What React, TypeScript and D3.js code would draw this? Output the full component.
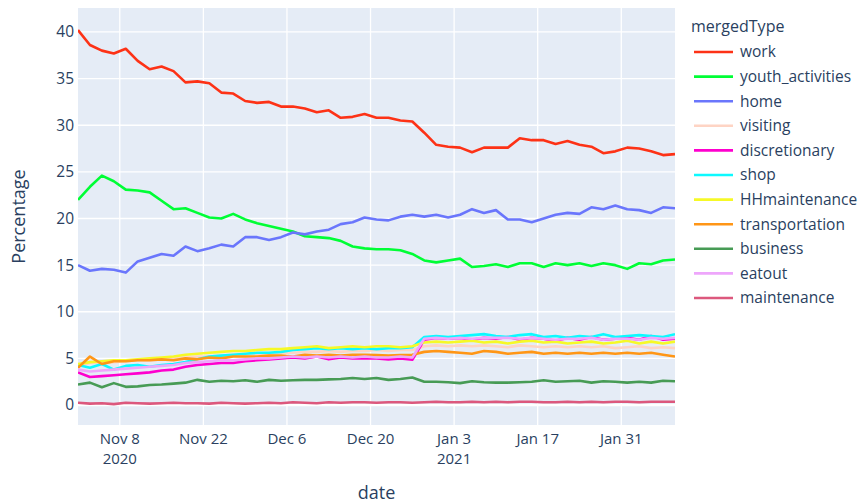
import React from 'react';
import * as d3 from 'd3';

// daily-share series, sampled every 2 days from Nov 1 2020 to Feb 9 2021
const START = new Date(2020, 10, 1);
const END = new Date(2021, 1, 9);
const STEP_DAYS = 2;

const seriesNames = [
  'work', 'youth_activities', 'home', 'visiting', 'discretionary', 'shop',
  'HHmaintenance', 'transportation', 'business', 'eatout', 'maintenance',
];
const seriesColors = [
  '#FD3216', '#00FE35', '#6A76FC', '#FED4C4', '#FE00CE', '#0DF9FF',
  '#F6F926', '#FF9616', '#479B55', '#EEA6FB', '#DC587D',
];

const work = [
  40.2, 38.6, 38.0, 37.7, 38.2, 36.9, 36.0, 36.3, 35.8, 34.6,
  34.7, 34.5, 33.5, 33.4, 32.6, 32.4, 32.5, 32.0, 32.0, 31.8,
  31.4, 31.6, 30.8, 30.9, 31.2, 30.8, 30.8, 30.5, 30.4, 29.2,
  27.9, 27.7, 27.6, 27.1, 27.6, 27.6, 27.6, 28.6, 28.4, 28.4,
  28.0, 28.3, 27.9, 27.7, 27.0, 27.2, 27.6, 27.5, 27.2, 26.8,
  26.9,
];
const youthActivities = [
  22.0, 23.4, 24.6, 24.0, 23.1, 23.0, 22.8, 21.9, 21.0, 21.1,
  20.6, 20.1, 20.0, 20.5, 19.9, 19.5, 19.2, 18.9, 18.6, 18.1,
  18.0, 17.9, 17.6, 17.0, 16.8, 16.7, 16.7, 16.6, 16.2, 15.5,
  15.3, 15.5, 15.7, 14.8, 14.9, 15.1, 14.8, 15.2, 15.2, 14.8,
  15.2, 15.0, 15.2, 14.9, 15.2, 15.0, 14.6, 15.2, 15.1, 15.5,
  15.6,
];
const home = [
  15.0, 14.4, 14.6, 14.5, 14.2, 15.4, 15.8, 16.2, 16.0, 17.0,
  16.5, 16.8, 17.2, 17.0, 18.0, 18.0, 17.7, 18.0, 18.5, 18.3,
  18.6, 18.8, 19.4, 19.6, 20.1, 19.9, 19.8, 20.2, 20.4, 20.2,
  20.4, 20.1, 20.4, 21.0, 20.6, 20.9, 19.9, 19.9, 19.6, 20.0,
  20.4, 20.6, 20.5, 21.2, 21.0, 21.4, 21.0, 20.9, 20.6, 21.2,
  21.1,
];
const visiting = [
  4.2, 4.5, 4.5, 4.6, 4.7, 4.8, 4.8, 4.9, 5.0, 5.1,
  5.2, 5.2, 5.3, 5.4, 5.4, 5.5, 5.5, 5.6, 5.6, 5.7,
  5.7, 5.8, 5.7, 5.8, 5.8, 5.9, 5.8, 5.9, 5.9, 6.3,
  6.4, 6.3, 6.4, 6.3, 6.4, 6.3, 6.2, 6.4, 6.3, 6.2,
  6.3, 6.2, 6.3, 6.2, 6.3, 6.1, 6.2, 6.3, 6.1, 6.2,
  6.1,
];
const discretionary = [
  3.5, 3.0, 3.1, 3.2, 3.3, 3.4, 3.5, 3.7, 3.8, 4.1,
  4.3, 4.4, 4.5, 4.5, 4.7, 4.8, 4.9, 5.0, 5.1, 5.0,
  5.2, 4.9, 5.1, 5.0, 5.0, 5.0, 4.9, 5.0, 4.85, 7.0,
  7.2, 7.1, 7.2, 7.0, 7.2, 7.1, 7.3, 7.0, 7.2, 7.1,
  6.9, 7.2, 7.0, 7.3, 7.0, 7.1, 7.2, 7.0, 7.4, 7.0,
  7.1,
];
const shop = [
  4.3, 4.0, 4.4, 3.8, 4.2, 4.3, 4.1, 4.3, 4.4, 4.6,
  4.9, 5.2, 5.3, 5.4, 5.5, 5.6, 5.6, 5.7, 5.9, 6.0,
  6.1, 6.0, 6.1, 6.0, 6.1, 6.0, 6.1, 6.1, 6.2, 7.3,
  7.4, 7.3, 7.4, 7.5, 7.6, 7.4, 7.3, 7.5, 7.6, 7.3,
  7.4, 7.2, 7.4, 7.3, 7.6, 7.3, 7.4, 7.5, 7.4, 7.3,
  7.6,
];
const hhMaintenance = [
  4.4, 4.6, 4.7, 4.8, 4.8, 4.9, 5.0, 5.1, 5.2, 5.4,
  5.5, 5.6, 5.7, 5.8, 5.8, 5.9, 6.0, 6.0, 6.1, 6.2,
  6.3, 6.1, 6.2, 6.3, 6.2, 6.3, 6.3, 6.2, 6.3, 6.7,
  6.8, 6.7, 6.8, 6.9, 6.7, 6.8, 6.6, 6.8, 6.9, 6.7,
  6.8, 6.6, 6.7, 6.8, 6.6, 6.7, 6.9, 6.6, 6.8, 6.6,
  6.8,
];
const transportation = [
  4.0, 5.2, 4.4, 4.7, 4.7, 4.8, 4.8, 4.9, 4.8, 5.0,
  4.9, 5.1, 5.0, 5.2, 5.2, 5.2, 5.3, 5.3, 5.2, 5.4,
  5.3, 5.4, 5.3, 5.4, 5.4, 5.35, 5.3, 5.35, 5.4, 5.7,
  5.8, 5.7, 5.6, 5.5, 5.8, 5.7, 5.5, 5.6, 5.7, 5.5,
  5.6, 5.5, 5.6, 5.5, 5.6, 5.5, 5.6, 5.5, 5.6, 5.4,
  5.2,
];
const business = [
  2.2, 2.4, 1.9, 2.35, 1.95, 2.0, 2.15, 2.2, 2.3, 2.4,
  2.7, 2.5, 2.6, 2.55, 2.65, 2.5, 2.7, 2.6, 2.65, 2.7,
  2.7, 2.75, 2.8, 2.9, 2.8, 2.9, 2.7, 2.8, 2.95, 2.5,
  2.5, 2.45, 2.35, 2.55, 2.45, 2.4, 2.4, 2.45, 2.5, 2.65,
  2.5, 2.55, 2.6, 2.4, 2.55, 2.5, 2.4, 2.5, 2.4, 2.6,
  2.55,
];
const eatout = [
  3.8, 3.6, 3.7, 3.8, 3.9, 4.0, 4.1, 4.2, 4.3, 4.5,
  4.6, 4.7, 4.8, 4.8, 4.9, 5.0, 5.0, 5.1, 5.2, 5.1,
  5.2, 5.1, 5.2, 5.1, 5.2, 5.1, 5.1, 5.2, 5.1, 7.1,
  7.2, 7.1, 7.2, 7.1, 7.2, 7.2, 7.2, 7.1, 7.2, 7.1,
  7.0, 7.1, 7.1, 7.2, 7.0, 7.1, 7.1, 7.0, 7.2, 7.1,
  7.2,
];
const maintenance = [
  0.25, 0.15, 0.2, 0.1, 0.25, 0.2, 0.15, 0.2, 0.25, 0.2,
  0.2, 0.15, 0.25, 0.2, 0.15, 0.2, 0.25, 0.2, 0.3, 0.25,
  0.2, 0.3, 0.25, 0.3, 0.3, 0.25, 0.3, 0.3, 0.25, 0.3,
  0.35, 0.3, 0.3, 0.35, 0.3, 0.35, 0.3, 0.35, 0.35, 0.3,
  0.3, 0.35, 0.3, 0.35, 0.3, 0.35, 0.35, 0.3, 0.35, 0.35,
  0.35,
];

const seriesValues = [
  work, youthActivities, home, visiting, discretionary, shop,
  hhMaintenance, transportation, business, eatout, maintenance,
];

const yTicks = [0, 5, 10, 15, 20, 25, 30, 35, 40];
const xTickDates = [
  new Date(2020, 10, 8), new Date(2020, 10, 22), new Date(2020, 11, 6),
  new Date(2020, 11, 20), new Date(2021, 0, 3), new Date(2021, 0, 17),
  new Date(2021, 0, 31),
];
const xTickLabels = ['Nov 8', 'Nov 22', 'Dec 6', 'Dec 20', 'Jan 3', 'Jan 17', 'Jan 31'];
const xTickYears = ['2020', '', '', '', '2021', '', ''];

const W = 867;
const H = 504;
const plot = { left: 78, right: 675, top: 8, bottom: 425 };
const FONT = '"Open Sans", "Noto Sans", sans-serif';
const TEXT = '#2a3f5f';

export default function App() {
  const x = d3.scaleTime().domain([START, END]).range([plot.left, plot.right]);
  const y = d3.scaleLinear().domain([-2.14, 42.57]).range([plot.bottom, plot.top]);

  const line = d3
    .line<number>()
    .x((_, i) => x(d3.timeDay.offset(START, i * STEP_DAYS)))
    .y((d) => y(d));

  return (
    <svg
      width={W}
      height={H}
      style={{ position: 'absolute', left: 0, top: 0, background: '#fff' }}
      fontFamily={FONT}
    >
      <defs>
        <clipPath id="plot-clip">
          <rect x={plot.left} y={plot.top} width={plot.right - plot.left} height={plot.bottom - plot.top} />
        </clipPath>
      </defs>

      {/* plot background + grid */}
      <rect x={plot.left} y={plot.top} width={plot.right - plot.left} height={plot.bottom - plot.top} fill="#E5ECF6" />
      {xTickDates.map((d, i) => (
        <line key={'gx' + i} x1={x(d)} x2={x(d)} y1={plot.top} y2={plot.bottom} stroke="#fff" strokeWidth={1.3} />
      ))}
      {yTicks.map((t) => (
        <line
          key={'gy' + t}
          x1={plot.left}
          x2={plot.right}
          y1={y(t)}
          y2={y(t)}
          stroke="#fff"
          strokeWidth={t === 0 ? 2.6 : 1.3}
        />
      ))}

      {/* series */}
      <g clipPath="url(#plot-clip)">
        {seriesValues.map((vals, i) => (
          <path
            key={seriesNames[i]}
            d={line(vals) || ''}
            fill="none"
            stroke={seriesColors[i]}
            strokeWidth={2.6}
            strokeLinejoin="round"
          />
        ))}
      </g>

      {/* y axis */}
      {yTicks.map((t) => (
        <text key={'ty' + t} x={plot.left - 4} y={y(t)} dy="0.35em" textAnchor="end" fontSize={15.5} fill={TEXT}>
          {t}
        </text>
      ))}
      <text
        transform={`translate(19,${(plot.top + plot.bottom) / 2}) rotate(-90)`}
        textAnchor="middle"
        dy="0.35em"
        fontSize={18}
        fill={TEXT}
      >
        Percentage
      </text>

      {/* x axis: month/day, with the year underneath where it changes */}
      {xTickDates.map((d, i) => (
        <text key={'tx' + i} x={x(d)} y={443.5} textAnchor="middle" fontSize={15} fill={TEXT}>
          <tspan x={x(d)}>{xTickLabels[i]}</tspan>
          {xTickYears[i] && (
            <tspan x={x(d)} dy={20.5}>
              {xTickYears[i]}
            </tspan>
          )}
        </text>
      ))}
      <text x={(plot.left + plot.right) / 2} y={499} textAnchor="middle" fontSize={18} fill={TEXT}>
        date
      </text>

      {/* legend */}
      <text x={691} y={32} fontSize={16} fill={TEXT}>
        mergedType
      </text>
      {seriesNames.map((name, i) => {
        const cy = 52 + i * 24.6;
        return (
          <g key={'lg' + name}>
            <line x1={694} x2={733} y1={cy} y2={cy} stroke={seriesColors[i]} strokeWidth={2.6} />
            <text x={740} y={cy} dy="0.35em" fontSize={15.5} fill={TEXT}>
              {name}
            </text>
          </g>
        );
      })}
    </svg>
  );
}
